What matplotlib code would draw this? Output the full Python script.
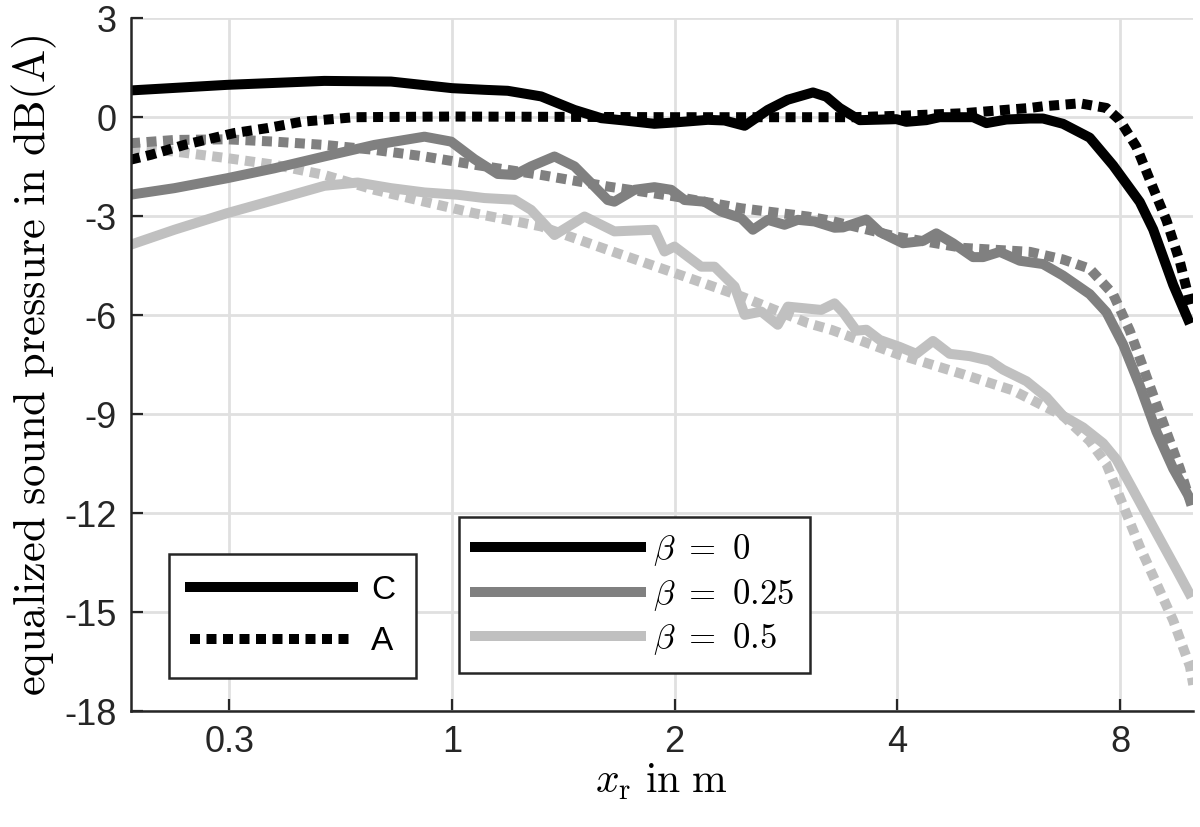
import numpy as np
import matplotlib
matplotlib.use('Agg')
import matplotlib.pyplot as plt
from matplotlib.lines import Line2D

plt.rcParams['mathtext.fontset'] = 'cm'
plt.rcParams['font.family'] = ['Liberation Sans', 'DejaVu Sans']
plt.rcParams['axes.unicode_minus'] = False

# x axis: one tick per octave, positions in log2 units (label "1" at 0)
x_ticks = [-1, 0, 1, 2, 3]
x_ticklabels = ['0.3', '1', '2', '4', '8']
y_ticks = [-18, -15, -12, -9, -6, -3, 0, 3]

# beta = 0, C weighting (solid black)
c0_x = [-1.446, -1.011, -0.574, -0.274, 0.0, 0.145, 0.25, 0.40, 0.55, 0.67, 0.774, 0.909,
        0.999, 1.149, 1.224, 1.314, 1.418, 1.508, 1.621, 1.681, 1.741, 1.831, 1.996, 2.04,
        2.13, 2.19, 2.34, 2.40, 2.49, 2.595, 2.654, 2.744, 2.864, 2.969, 3.089, 3.149,
        3.239, 3.314]
c0_y = [0.81, 0.98, 1.10, 1.08, 0.88, 0.83, 0.80, 0.63, 0.22, -0.03, -0.10, -0.20,
        -0.16, -0.08, -0.10, -0.26, 0.22, 0.53, 0.75, 0.62, 0.28, -0.09, -0.06, -0.14,
        -0.09, 0.0, 0.0, -0.18, -0.07, -0.04, -0.04, -0.2, -0.62, -1.46, -2.57, -3.4,
        -5.08, -6.26]
# beta = 0, A weighting (dotted black)
a0_x = [-1.446, -1.353, -1.203, -0.978, -0.829, -0.679, -0.439, 0.0, 1.0, 1.8, 2.04,
        2.295, 2.445, 2.595, 2.654, 2.819, 2.939, 2.999, 3.074, 3.149, 3.209, 3.269, 3.321]
a0_y = [-1.29, -1.14, -0.84, -0.48, -0.33, -0.14, 0.0, 0.02, 0.0, 0.0, 0.05,
        0.12, 0.2, 0.28, 0.33, 0.42, 0.28, -0.09, -0.9, -2.15, -3.13, -4.38, -5.8]

# beta = 0.25
c25_x = [-1.446, -1.247, -1.011, -0.799, -0.574, -0.349, -0.124, -0.004, 0.1, 0.205,
         0.28, 0.355, 0.46, 0.55, 0.625, 0.699, 0.729, 0.819, 0.909, 0.984, 1.044, 1.134,
         1.209, 1.299, 1.351, 1.418, 1.493, 1.553, 1.628, 1.718, 1.756, 1.861, 1.921,
         2.025, 2.115, 2.175, 2.25, 2.34, 2.385, 2.46, 2.55, 2.654, 2.744, 2.864, 2.939,
         3.014, 3.089, 3.164, 3.239, 3.314]
c25_y = [-2.35, -2.15, -1.85, -1.55, -1.19, -0.84, -0.59, -0.74, -1.27, -1.72,
         -1.75, -1.49, -1.19, -1.49, -2.0, -2.51, -2.56, -2.2, -2.12, -2.2, -2.51, -2.56,
         -2.86, -3.06, -3.41, -3.11, -3.26, -3.11, -3.16, -3.35, -3.34, -3.1, -3.48,
         -3.82, -3.75, -3.52, -3.82, -4.24, -4.24, -4.08, -4.35, -4.45, -4.8, -5.36, -5.91,
         -6.89, -8.14, -9.53, -10.65, -11.55]
a25_x = [-1.446, -1.247, -1.011, -0.799, -0.574, -0.349, -0.124, 0.1, 0.4, 0.699, 0.999,
         1.299, 1.598, 1.696, 1.996, 2.295, 2.595, 2.744, 2.864, 2.969, 3.044, 3.119,
         3.194, 3.269, 3.321]
a25_y = [-0.79, -0.69, -0.67, -0.74, -0.84, -0.99, -1.19, -1.44, -1.75, -2.1, -2.4,
         -2.76, -3.01, -3.13, -3.62, -3.96, -4.08, -4.31, -4.59, -5.36, -6.47, -7.86,
         -9.26, -10.65, -11.76]

# beta = 0.5
c50_x = [-1.446, -1.247, -1.011, -0.799, -0.574, -0.424, -0.274, -0.124, 0.025, 0.145,
         0.28, 0.355, 0.46, 0.595, 0.729, 0.909, 0.954, 0.999, 1.119, 1.179, 1.269,
         1.314, 1.389, 1.463, 1.508, 1.658, 1.718, 1.756, 1.816, 1.861, 1.921, 2.01,
         2.085, 2.16, 2.235, 2.325, 2.415, 2.475, 2.58, 2.67, 2.744, 2.834, 2.924, 2.984,
         3.074, 3.164, 3.254, 3.321]
c50_y = [-3.87, -3.41, -2.91, -2.51, -2.08, -1.98, -2.15, -2.28, -2.35, -2.45,
         -2.5, -2.81, -3.57, -3.01, -3.46, -3.41, -4.07, -3.92, -4.53, -4.53, -5.13,
         -5.99, -5.89, -6.29, -5.74, -5.84, -5.64, -5.91, -6.47, -6.44, -6.75, -6.96,
         -7.17, -6.78, -7.17, -7.24, -7.38, -7.65, -8.0, -8.49, -9.05, -9.4, -9.88, -10.37,
         -11.48, -12.6, -13.71, -14.55]
a50_x = [-1.446, -1.247, -1.011, -0.799, -0.574, -0.349, -0.124, 0.1, 0.4, 0.699, 0.999,
         1.299, 1.598, 1.707, 1.996, 2.295, 2.52, 2.744, 2.864, 2.939, 3.014, 3.089,
         3.164, 3.239, 3.314, 3.329]
a50_y = [-0.94, -1.04, -1.24, -1.44, -1.75, -2.2, -2.56, -2.91, -3.31, -4.02, -4.72,
         -5.43, -6.24, -6.45, -7.17, -7.79, -8.28, -9.05, -9.81, -10.51, -11.76, -13.02,
         -14.13, -15.25, -16.64, -17.2]

col_0 = '#000000'
col_25 = '#808080'
col_50 = '#c0c0c0'
lw = 7.2
dotted = (0, (1.0, 0.65))

fig = plt.figure(figsize=(12, 8.27), dpi=100)
ax = fig.add_axes([0.109, 0.140, 0.885, 0.838])

curves = [
    (c50_x, c50_y, a50_x, a50_y, col_50),
    (c25_x, c25_y, a25_x, a25_y, col_25),
    (c0_x, c0_y, a0_x, a0_y, col_0),
]
for cx, cy, axx, ayy, col in curves:
    ax.plot(cx, cy, color=col, lw=lw, solid_joinstyle='round', solid_capstyle='butt')
    ax.plot(axx, ayy, color=col, lw=lw, linestyle=dotted, dash_capstyle='butt')

ax.set_xlim(-1.443, 3.327)
ax.set_ylim(-18, 3)
ax.set_xticks(x_ticks)
ax.set_xticklabels(x_ticklabels)
ax.set_yticks(y_ticks)
ax.set_yticklabels([str(v) for v in y_ticks])
ax.tick_params(direction='in', length=8.5, width=1.6, labelsize=26, colors='#262626',
               pad=10)
ax.tick_params(axis='y', pad=10)
ax.grid(True, color='#e0e0e0', lw=2.0)
ax.set_axisbelow(True)
for side in ['top', 'right']:
    ax.spines[side].set_visible(False)
for side in ['left', 'bottom']:
    ax.spines[side].set_color('#262626')
    ax.spines[side].set_linewidth(1.8)

ax.set_xlabel(r'$x_\mathrm{r}\ \mathrm{in\ m}$', fontsize=30, labelpad=1)
ax.set_ylabel(r'$\mathrm{equalized\ sound\ pressure\ in\ dB(A)}$', fontsize=32,
              labelpad=4)

# weighting legend
h_w = [Line2D([0], [0], color='k', lw=lw),
       Line2D([0], [0], color='k', lw=lw, linestyle=dotted, dash_capstyle='butt')]
leg1 = ax.legend(h_w, ['C', 'A'], loc='lower left', bbox_to_anchor=(0.036, 0.048),
                 borderaxespad=0, fontsize=24, handlelength=4.9, handletextpad=0.55,
                 labelspacing=0.62, borderpad=0.62, fancybox=False, framealpha=1,
                 edgecolor='#262626')
leg1.get_frame().set_linewidth(1.8)
ax.add_artist(leg1)

# beta legend
h_b = [Line2D([0], [0], color=col_0, lw=lw),
       Line2D([0], [0], color=col_25, lw=lw),
       Line2D([0], [0], color=col_50, lw=lw)]
leg2 = ax.legend(h_b, [r'$\beta\ =\ 0$', r'$\beta\ =\ 0.25$', r'$\beta\ =\ 0.5$'],
                 loc='lower left', bbox_to_anchor=(0.309, 0.055), borderaxespad=0,
                 fontsize=25, handlelength=4.8, handletextpad=0.35, labelspacing=0.25,
                 borderpad=0.45, fancybox=False, framealpha=1, edgecolor='#262626')
leg2.get_frame().set_linewidth(1.8)

fig.savefig('out.png', dpi=100)
